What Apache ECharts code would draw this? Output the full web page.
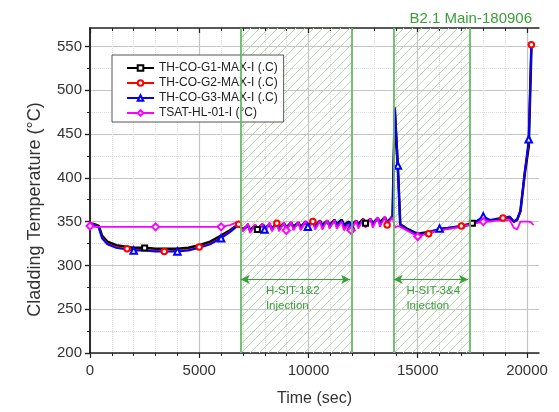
<!DOCTYPE html>
<html><head><meta charset="utf-8">
<script src="https://cdn.jsdelivr.net/npm/echarts@6/dist/echarts.min.js"></script>
<style>html,body{margin:0;padding:0;background:#fff}#c{width:559px;height:412px}</style>
</head><body><div id="c"></div>
<script>
const time = [0,200,400,550,800,1200,1700,2000,2500,3000,3400,4000,4500,5000,5500,6000,6400,6800,
  7000,7230,7330,7560,7660,7890,7990,8220,8320,8550,8650,8880,8980,9210,9310,9540,9640,9870,9970,10200,10300,
  10530,10630,10860,10960,11190,11290,11520,11620,11850,11950,12180,12280,12510,12610,12840,12940,13170,13270,13500,13600,
  13700,13850,13950,14090,14200,14500,15000,15500,16000,16500,17000,17500,18000,18300,18600,18900,19200,19400,19550,19700,19900,20080,20200,20300];
const g1 = [348,347,345,334,327,323,321,320,320,319,319,319,320,323,327,334,340,347,
  341,346,340,346,341,347,342,347,342,348,343,348,343,349,344,349,344,350,345,350,345,351,346,351,346,352,347,352,346,350,345,351,347,353,348,353,348,354,349,355,349,
  352,356,478,412,347,342,336,338,341,343,345,348,354,351,353,354,355,350,352,362,405,436,548,null];
const g2 = [348,347,344,332,325,321,319,318,318,317,316,317,318,321,325,332,339,347,
  339,347,338,346,339,347,339,348,340,348,340,348,341,349,341,349,341,350,342,350,342,350,343,351,343,351,344,351,342,349,341,351,344,353,345,353,345,354,346,355,346,
  352,357,481,413,347,341,334,336,341,342,345,348,355,350,352,354,355,349,352,361,405,440,552,null];
const g3 = [347,346,343,331,324,320,318,317,317,316,316,316,317,320,324,331,338,346,
  340,345,339,345,340,346,341,346,341,347,342,347,342,348,343,348,343,349,344,349,344,350,345,350,345,351,346,351,345,349,344,350,346,352,347,352,347,353,348,354,348,
  351,357,480,414,346,341,335,337,342,343,344,347,356,352,352,353,356,350,353,362,407,444,550,null];
const tsat = [345,344,344,344,344,344,344,344,344,344,344,344,344,344,344,344,346,350,
  339,348,337,347,338,348,338,349,339,349,339,349,340,350,340,350,340,351,341,351,341,351,341,352,342,352,342,350,340,347,340,351,342,353,343,354,343,355,344,356,344,
  350,355,343,345,344,340,333,337,340,342,344,347,350,350,351,351,352,343,341,350,350,350,349,346];

const seriesNames = ['TH-CO-G1-MAX-I (.C)','TH-CO-G2-MAX-I (.C)','TH-CO-G3-MAX-I (.C)','TSAT-HL-01-I (°C)'];
const markerTimes = [
  [2500,7660,12610,17500],
  [1700,3400,5000,6800,8550,10200,11950,13600,15500,17000,18900,20200],
  [2000,4000,6000,7990,9970,11950,14090,16000,18000,20080],
  [0,3000,6000,8980,11950,15000,18000]
];
const xMajor = [0,5000,10000,15000,20000];
const xMinor = [1000,2000,3000,4000,6000,7000,8000,9000,11000,12000,13000,14000,16000,17000,18000,19000];
const yMajor = [200,250,300,350,400,450,500,550];
const yMinor = [225,275,325,375,425,475,525];
const injections = [[6900,12000],[13900,17400]];
const injectionLabels = ['H-SIT-1&2\nInjection','H-SIT-3&4\nInjection'];
const arrowLevel = 284;
const labelPos = [[8050,262],[14480,262]];
const titleText = 'B2.1 Main-180906';

const GREEN = '#3a9e3a';
function hatch(){
  const c=document.createElement('canvas'); c.width=9; c.height=9;
  const x=c.getContext('2d'); x.strokeStyle='#b6ddae'; x.lineWidth=1;
  x.beginPath();
  x.moveTo(0,9); x.lineTo(9,0);
  x.moveTo(-4.5,4.5); x.lineTo(4.5,-4.5);
  x.moveTo(4.5,13.5); x.lineTo(13.5,4.5);
  x.stroke();
  return c;
}
function pairs(vals){ return time.map((t,i)=>[t,vals[i]]); }
function sizer(set,size){ return (v)=> (v && set.indexOf(v[0])>=0) ? size : 0; }

const FONT = 'Liberation Sans, Arial, sans-serif';
const chart = echarts.init(document.getElementById('c'), null, {renderer:'canvas'});
const axisCommon = {min:0, max:20550, type:'value'};
const yCommon = {min:200, max:571, type:'value'};
const lineBlack = {show:true, lineStyle:{color:'#222', width:1.5}};

const option = {
  animation:false,
  backgroundColor:'#fff',
  title:{text:titleText, right:22, top:6, textStyle:{color:GREEN, fontSize:15, fontWeight:'normal', fontFamily:FONT}},
  grid:{left:90, right:20, top:28, bottom:56},
  legend:{
    orient:'vertical', left:112, top:55, data:seriesNames,
    itemWidth:27, itemHeight:7, itemGap:3,
    padding:[7,6,3,14], borderColor:'#555', borderWidth:1, backgroundColor:'#fff',
    textStyle:{fontSize:12, color:'#222', fontFamily:FONT}
  },
  xAxis:[
    Object.assign({}, axisCommon, {position:'bottom', axisLine:lineBlack,
      axisTick:{show:true, length:5, customValues:xMajor, lineStyle:{color:'#222', width:1.2}},
      axisLabel:{customValues:xMajor, fontSize:15, color:'#333', margin:10, fontFamily:FONT, formatter:v=>String(v)},
      splitLine:{show:true, lineStyle:{color:'#c4c4c4', width:1.2}},
      name:'Time (sec)', nameLocation:'middle', nameGap:38, nameTextStyle:{fontSize:16, color:'#333', fontFamily:FONT}}),
    Object.assign({}, axisCommon, {position:'bottom', axisLine:{show:false},
      axisTick:{show:true, length:3, customValues:xMinor, lineStyle:{color:'#222'}},
      axisLabel:{show:false},
      splitLine:{show:true, lineStyle:{color:'#dcdcdc', type:'dotted', width:1}}}),
    Object.assign({}, axisCommon, {position:'top', axisLine:lineBlack,
      axisTick:{show:true, inside:true, length:5, customValues:xMajor, lineStyle:{color:'#222', width:1.2}},
      axisLabel:{show:false}, splitLine:{show:false}}),
    Object.assign({}, axisCommon, {position:'top', axisLine:{show:false},
      axisTick:{show:true, inside:true, length:3, customValues:xMinor, lineStyle:{color:'#222'}},
      axisLabel:{show:false}, splitLine:{show:false}})
  ],
  yAxis:[
    Object.assign({}, yCommon, {position:'left', axisLine:lineBlack,
      axisTick:{show:true, length:5, customValues:yMajor, lineStyle:{color:'#222', width:1.2}},
      axisLabel:{customValues:yMajor, fontSize:15, color:'#333', margin:8, fontFamily:FONT, formatter:v=>String(v)},
      splitLine:{show:true, lineStyle:{color:'#c4c4c4', width:1.2}},
      name:'Cladding Temperature (°C)', nameLocation:'middle', nameGap:46,
      nameTextStyle:{fontSize:18, color:'#333', fontFamily:FONT, padding:[0,38,0,0]}}),
    Object.assign({}, yCommon, {position:'left', axisLine:{show:false},
      axisTick:{show:true, length:3, customValues:yMinor, lineStyle:{color:'#222'}},
      axisLabel:{show:false},
      splitLine:{show:true, lineStyle:{color:'#dcdcdc', type:'dotted', width:1}}}),
    Object.assign({}, yCommon, {position:'right', axisLine:lineBlack,
      axisTick:{show:true, inside:true, length:5, customValues:yMajor, lineStyle:{color:'#222', width:1.2}},
      axisLabel:{show:false}, splitLine:{show:false}}),
    Object.assign({}, yCommon, {position:'right', axisLine:{show:false},
      axisTick:{show:true, inside:true, length:3, customValues:yMinor, lineStyle:{color:'#222'}},
      axisLabel:{show:false}, splitLine:{show:false}})
  ],
  series:[
    {name:seriesNames[0], type:'line', data:pairs(g1), color:'#000',
      lineStyle:{width:2.6, color:'#000'}, symbol:'emptyRect', symbolSize:sizer(markerTimes[0],5), showSymbol:true, showAllSymbol:true,
      itemStyle:{color:'#000', borderWidth:1},
      markArea:{silent:true, itemStyle:{color:{image:hatch(), repeat:'repeat'}, opacity:1},
        data:injections.map(r=>[{xAxis:r[0]},{xAxis:r[1]}])},
      markLine:{silent:true, symbol:'none', label:{show:false},
        lineStyle:{color:'#66bb66', width:1.8, type:'solid'},
        data:[].concat(
          injections.flatMap(r=>[{xAxis:r[0]},{xAxis:r[1]}]),
          injections.map(r=>[{coord:[r[0],arrowLevel], symbol:'arrow', symbolSize:[7,9]},
                             {coord:[r[1]-100,arrowLevel], symbol:'arrow', symbolSize:[7,9], lineStyle:{color:GREEN, width:1}}])
        )},
      markPoint:{silent:true, symbol:'circle', symbolSize:0,
        data:labelPos.map((p,i)=>({coord:p, value:injectionLabels[i],
          label:{show:true, position:'inside', align:'left', verticalAlign:'middle', formatter:injectionLabels[i],
            color:GREEN, fontSize:11.5, lineHeight:15, fontFamily:FONT}}))}
    },
    {name:seriesNames[1], type:'line', data:pairs(g2), color:'#ff0000',
      lineStyle:{width:1.5, color:'#ff0000'}, symbol:'emptyCircle', symbolSize:sizer(markerTimes[1],5.5), showSymbol:true, showAllSymbol:true,
      itemStyle:{color:'#ff0000', borderWidth:1}},
    {name:seriesNames[2], type:'line', data:pairs(g3), color:'#0000ff',
      lineStyle:{width:2, color:'#0000ff'}, symbol:'emptyTriangle', symbolSize:sizer(markerTimes[2],6.5), showSymbol:true, showAllSymbol:true,
      itemStyle:{color:'#0000ff', borderWidth:1}},
    {name:seriesNames[3], type:'line', data:pairs(tsat), color:'#ff00ff',
      lineStyle:{width:1.8, color:'#ff00ff'}, symbol:'emptyDiamond', symbolSize:sizer(markerTimes[3],7), showSymbol:true, showAllSymbol:true,
      itemStyle:{color:'#ff00ff', borderWidth:1}}
  ]
};
chart.setOption(option);
</script>
</body></html>
